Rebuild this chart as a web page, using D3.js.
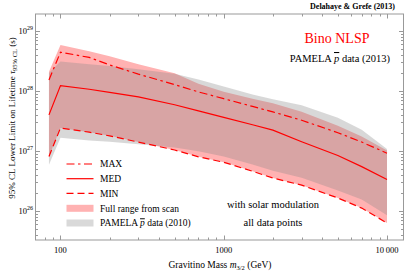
<!DOCTYPE html>
<html>
<head>
<meta charset="utf-8">
<script src="https://cdn.jsdelivr.net/npm/d3@7/dist/d3.min.js"></script>
<style>
body{margin:0;background:#fff;}
text{font-family:"Liberation Serif","DejaVu Serif",serif;}
</style>
</head>
<body>
<div class="chart"></div>
<script>
// gravitino masses (GeV)
var mass   = [85, 100, 150, 200, 300, 500, 700, 1000, 1500, 2000, 3000, 5000, 7000, 10000];
// lower limits on lifetime (s)
var maxV   = [1.53e28, 4.43e28, 3.63e28, 2.72e28, 1.91e28, 1.28e28, 9.66e27, 7.45e27, 5.53e27, 4.48e27, 3.26e27, 2.02e27, 1.41e27, 9.2e26];
var medV   = [4.0e27, 1.23e28, 1.07e28, 9.5e27, 8.0e27, 5.9e27, 4.66e27, 3.63e27, 2.74e27, 2.23e27, 1.43e27, 8.4e26, 5.5e26, 3.35e26];
var minV   = [8.1e26, 2.42e27, 2.06e27, 1.79e27, 1.41e27, 1.04e27, 8.0e26, 6.5e26, 4.6e26, 3.55e26, 2.7e26, 1.65e26, 1.12e26, 6.3e25];
var scanHi = [2.1e28, 5.85e28, 4.6e28, 3.8e28, 2.8e28, 1.97e28, 1.32e28, 9.7e27, 7.4e27, 6.25e27, 4.5e27, 2.64e27, 1.74e27, 1.02e27];
var scanLo = [8.1e26, 2.42e27, 2.06e27, 1.79e27, 1.41e27, 1.04e27, 8.0e26, 6.5e26, 4.6e26, 3.55e26, 2.7e26, 1.65e26, 1.12e26, 6.3e25];
var pamHi  = [2.0e28, 3.1e28, 2.8e28, 2.6e28, 2.3e28, 1.93e28, 1.55e28, 1.19e28, 8.75e27, 7.3e27, 5.8e27, 3.6e27, 2.27e27, 1.08e27];
var pamLo  = [5.9e26, 1.66e27, 1.5e27, 1.43e27, 1.3e27, 1.14e27, 9.9e26, 8.1e26, 5.95e26, 4.7e26, 3.6e26, 2.2e26, 1.55e26, 8.5e25];

var xTicks = [100, 1000, 10000];
var xTickLabels = ["100", "1000", "10\u2009000"];
var yTicks = [1e26, 1e27, 1e28, 1e29];
var yTickExp = ["26", "27", "28", "29"];
var legendNames = ["MAX", "MED", "MIN", "Full range from scan", "PAMELA"];

var W = 407, H = 272;
var pl = 35.5, pr = 403.5, pt = 14, pb = 240;

var svg = d3.select(".chart").append("svg").attr("width", W).attr("height", H);

var x = d3.scaleLog().domain([70.3, 12620]).range([pl, pr]);
var y = d3.scaleLog().domain([3.29e25, 1.92e29]).range([pb, pt]);

var frameCol = "#999";
var red = "#ff0000";

// bands
function band(hi, lo){
  return d3.area().x(function(d, i){ return x(mass[i]); })
    .y0(function(d, i){ return y(lo[i]); })
    .y1(function(d, i){ return y(hi[i]); })(mass);
}
svg.append("path").attr("d", band(scanHi, scanLo)).attr("fill", "rgb(255,178,178)");
svg.append("path").attr("d", band(pamHi, pamLo)).attr("fill", "rgb(138,138,138)").attr("fill-opacity", 0.33);

// lines
var line = d3.line().x(function(d, i){ return x(mass[i]); }).y(function(d){ return y(d); });
var styles = [
  {data: maxV, dash: "8,3.5,2.5,3.5"},
  {data: medV, dash: null},
  {data: minV, dash: "7,4"}
];
styles.forEach(function(s){
  svg.append("path").attr("d", line(s.data)).attr("fill", "none")
     .attr("stroke", red).attr("stroke-width", 1.2)
     .attr("stroke-dasharray", s.dash);
});

// frame
svg.append("rect").attr("x", pl).attr("y", pt)
   .attr("width", pr - pl).attr("height", pb - pt)
   .attr("fill", "none").attr("stroke", frameCol).attr("stroke-width", 1);

// log ticks
function logTicks(lo, hi){
  var out = [];
  for (var e = Math.floor(Math.log10(lo)); e <= Math.ceil(Math.log10(hi)); e++){
    for (var k = 1; k < 10; k++){
      var v = k * Math.pow(10, e);
      if (v >= lo && v <= hi) out.push({v: v, major: k == 1});
    }
  }
  return out;
}
var xt = logTicks(70.3, 12620);
var yt = logTicks(3.29e25, 1.92e29);
var g = svg.append("g").attr("stroke", frameCol).attr("stroke-width", 1);
xt.forEach(function(t){
  var px = Math.round(x(t.v)) + 0.5, len = t.major ? 4.5 : 2.5;
  g.append("line").attr("x1", px).attr("x2", px).attr("y1", pb).attr("y2", pb - len);
  g.append("line").attr("x1", px).attr("x2", px).attr("y1", pt).attr("y2", pt + len);
});
yt.forEach(function(t){
  var py = Math.round(y(t.v)) + 0.5, len = t.major ? 4.5 : 2.5;
  g.append("line").attr("y1", py).attr("y2", py).attr("x1", pl).attr("x2", pl + len);
  g.append("line").attr("y1", py).attr("y2", py).attr("x1", pr).attr("x2", pr - len);
});

// tick labels
xTicks.forEach(function(v, i){
  svg.append("text").attr("x", x(v)).attr("y", 253).attr("text-anchor", "middle")
     .attr("font-size", "8.5px").text(xTickLabels[i]);
});
yTicks.forEach(function(v, i){
  var t = svg.append("text").attr("x", 33).attr("y", y(v) + 3).attr("text-anchor", "end")
     .attr("font-size", "8.5px");
  t.append("tspan").text("10");
  t.append("tspan").attr("dy", -4).attr("font-size", "6px").text(yTickExp[i]);
});

// axis labels
var xl = svg.append("text").attr("x", 220).attr("y", 268).attr("text-anchor", "middle").attr("font-size", "9.5px");
xl.append("tspan").text("Gravitino Mass ");
xl.append("tspan").attr("font-style", "italic").text("m");
xl.append("tspan").attr("dy", 2).attr("font-size", "6.5px").text("3/2");
xl.append("tspan").attr("dy", -2).text(" (GeV)");

var yl = svg.append("text").attr("transform", "translate(15,118) rotate(-90)")
   .attr("text-anchor", "middle").attr("font-size", "9px");
yl.append("tspan").text("95% CL Lower Limit on Lifetime ");
yl.append("tspan").attr("font-style", "italic").text("\u03c4");
yl.append("tspan").attr("dy", 2).attr("font-size", "6.5px").text("95% CL");
yl.append("tspan").attr("dy", -2).text(" (s)");

// annotations
svg.append("text").attr("x", 395).attr("y", 9).attr("text-anchor", "end")
   .attr("font-size", "8px").attr("font-weight", "bold").text("Delahaye & Grefe (2013)");
svg.append("text").attr("x", 337).attr("y", 43).attr("text-anchor", "middle")
   .attr("font-size", "14px").attr("fill", red).text("Bino NLSP");
var pm = svg.append("text").attr("x", 390).attr("y", 62).attr("text-anchor", "end").attr("font-size", "10.5px");
pm.append("tspan").text("PAMELA ");
pm.append("tspan").attr("font-style", "italic").attr("text-decoration", "overline").text("p");
pm.append("tspan").text(" data (2013)");

svg.append("text").attr("x", 273).attr("y", 208).attr("text-anchor", "middle")
   .attr("font-size", "10.5px").text("with solar modulation");
svg.append("text").attr("x", 273).attr("y", 226).attr("text-anchor", "middle")
   .attr("font-size", "10.5px").text("all data points");

// legend
var lx0 = 66.5, lx1 = 93.5, ltx = 100;
var ly = [164, 178.7, 193.3, 208.3, 223];
styles.forEach(function(s, i){
  svg.append("line").attr("x1", lx0).attr("x2", lx1).attr("y1", ly[i]).attr("y2", ly[i])
     .attr("stroke", red).attr("stroke-width", 1.2).attr("stroke-dasharray", s.dash);
});
svg.append("rect").attr("x", lx0).attr("y", ly[3] - 3.5).attr("width", lx1 - lx0).attr("height", 7)
   .attr("fill", "rgb(255,178,178)");
svg.append("rect").attr("x", lx0).attr("y", ly[4] - 3.5).attr("width", lx1 - lx0).attr("height", 7)
   .attr("fill", "rgb(217,217,217)");
legendNames.forEach(function(n, i){
  var t = svg.append("text").attr("x", ltx).attr("y", ly[i] + 3.3).attr("font-size", "9.5px");
  t.append("tspan").text(n);
  if (i == 4){
    t.append("tspan").text(" ");
    t.append("tspan").attr("font-style", "italic").attr("text-decoration", "overline").text("p");
    t.append("tspan").text(" data (2010)");
  }
});
</script>
</body>
</html>
